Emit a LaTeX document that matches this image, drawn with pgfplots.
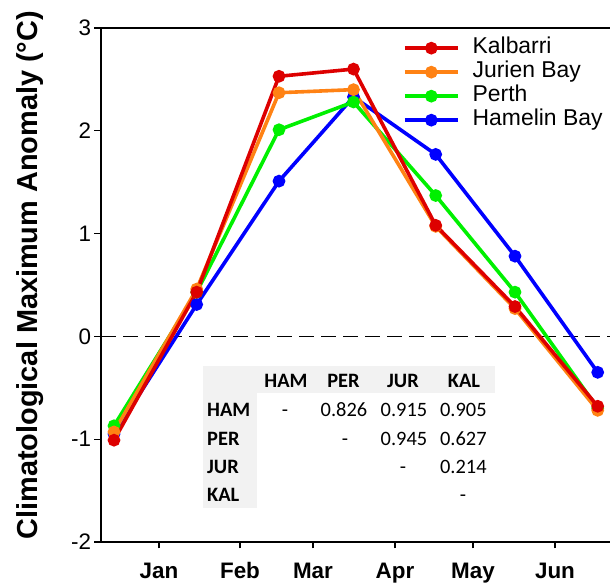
\documentclass[border=0pt]{standalone}
\usepackage{fontspec}
\setmainfont{Liberation Sans}
\newfontfamily\calibri{Carlito}
\usepackage{pgfplots}
\pgfplotsset{compat=1.18}
\definecolor{kred}{RGB}{221,0,0}
\definecolor{jorange}{RGB}{255,130,20}
\definecolor{pgreen}{RGB}{0,240,0}
\definecolor{hblue}{RGB}{0,0,255}
\definecolor{tgray}{RGB}{242,242,242}
\begin{document}
\begin{tikzpicture}
\begin{axis}[
 scale only axis, width=509bp, height=514bp,
 xmin=101, xmax=610, ymin=-2, ymax=3,
 axis x line*=bottom, axis y line*=left,
 x axis line style={-, line width=1.3bp},
 y axis line style={-, line width=1.3bp},
 tick align=outside, major tick length=6.5bp,
 tick style={line width=1.3bp, black},
 xtick={159,240,313,395,473,555},
 xticklabels={Jan,Feb,Mar,Apr,May,Jun},
 xticklabel style={font=\fontsize{22.5}{22.5}\selectfont\bfseries, anchor=base, yshift=-30bp},
 ytick={-2,-1,0,1,2,3}, yticklabels={-2,-1,0,1,2,3},
 yticklabel style={font=\fontsize{22.5}{22.5}\selectfont},
 ylabel={Climatological Maximum Anomaly (°C)},
 every axis y label/.style={at={(rel axis cs:-0.1257,0.519)}, anchor=base, rotate=90, font=\fontsize{29}{29}\selectfont\bfseries},
 clip=false,
 reverse legend,
 legend cell align=left,
 legend style={draw=none, fill=none, at={(rel axis cs:0.593,0.9844)}, anchor=north west,
   inner sep=0pt, column sep=13bp, row sep=0pt,
   nodes={inner sep=0pt, text height=17bp, text depth=7bp},
   font=\fontsize{23}{23}\selectfont},
 legend image code/.code={\draw[mark repeat=2, mark phase=2] plot coordinates {(0bp,0bp) (26.5bp,0bp) (53bp,0bp)};},
 every axis plot/.append style={line width=3.6bp, mark=*, mark size=4.5bp, mark options={solid}},
]
\addplot[black, line width=1bp, dash pattern=on 15bp off 7bp, mark=none, forget plot] coordinates {(101,0) (610,0)};
\addplot[hblue] coordinates {(114,-0.95) (196.7,0.31) (279,1.51) (353.5,2.33) (435.7,1.77) (515,0.78) (597.7,-0.35)};
\addlegendentry{Hamelin Bay}
\addplot[pgreen] coordinates {(114,-0.87) (196.7,0.43) (279,2.01) (353.5,2.28) (435.7,1.37) (515,0.43) (597.7,-0.70)};
\addlegendentry{Perth}
\addplot[jorange] coordinates {(114,-0.93) (196.7,0.46) (279,2.37) (353.5,2.40) (435.7,1.07) (515,0.27) (597.7,-0.72)};
\addlegendentry{Jurien Bay}
\addplot[kred] coordinates {(114,-1.01) (196.7,0.43) (279,2.53) (353.5,2.60) (435.7,1.08) (515,0.29) (597.7,-0.68)};
\addlegendentry{Kalbarri}
\draw[line width=1.3bp] (rel axis cs:0,1) -- (rel axis cs:1,1);
\fill[tgray] (axis cs:203,-0.288) rectangle (axis cs:495,-0.551);
\fill[tgray] (axis cs:203,-0.551) rectangle (axis cs:257,-1.669);
\begin{scope}[every node/.style={font=\calibri\fontsize{20.5}{20.5}\selectfont, inner sep=0pt}]
\node[anchor=base, font=\calibri\bfseries\fontsize{20.5}{20.5}\selectfont] at (axis cs:286,-0.502) {HAM};
\node[anchor=base, font=\calibri\bfseries\fontsize{20.5}{20.5}\selectfont] at (axis cs:343.5,-0.502) {PER};
\node[anchor=base, font=\calibri\bfseries\fontsize{20.5}{20.5}\selectfont] at (axis cs:403,-0.502) {JUR};
\node[anchor=base, font=\calibri\bfseries\fontsize{20.5}{20.5}\selectfont] at (axis cs:464,-0.502) {KAL};
\node[anchor=base west, font=\calibri\bfseries\fontsize{20.5}{20.5}\selectfont] at (axis cs:207,-0.779) {HAM};
\node[anchor=base west, font=\calibri\bfseries\fontsize{20.5}{20.5}\selectfont] at (axis cs:207,-1.061) {PER};
\node[anchor=base west, font=\calibri\bfseries\fontsize{20.5}{20.5}\selectfont] at (axis cs:207,-1.333) {JUR};
\node[anchor=base west, font=\calibri\bfseries\fontsize{20.5}{20.5}\selectfont] at (axis cs:207,-1.606) {KAL};
\node[anchor=base] at (axis cs:285,-0.779) {-};
\node[anchor=base] at (axis cs:344,-0.779) {0.826};
\node[anchor=base] at (axis cs:404,-0.779) {0.915};
\node[anchor=base] at (axis cs:463.4,-0.779) {0.905};
\node[anchor=base] at (axis cs:345,-1.061) {-};
\node[anchor=base] at (axis cs:404,-1.061) {0.945};
\node[anchor=base] at (axis cs:463.4,-1.061) {0.627};
\node[anchor=base] at (axis cs:403,-1.333) {-};
\node[anchor=base] at (axis cs:463.4,-1.333) {0.214};
\node[anchor=base] at (axis cs:463,-1.606) {-};
\end{scope}
\coordinate (bbA) at (axis cs:0,-2.418);
\coordinate (bbB) at (axis cs:610,3.272);
\end{axis}
\pgfresetboundingbox
\path[use as bounding box] (bbA) rectangle (bbB);
\end{tikzpicture}
\end{document}
